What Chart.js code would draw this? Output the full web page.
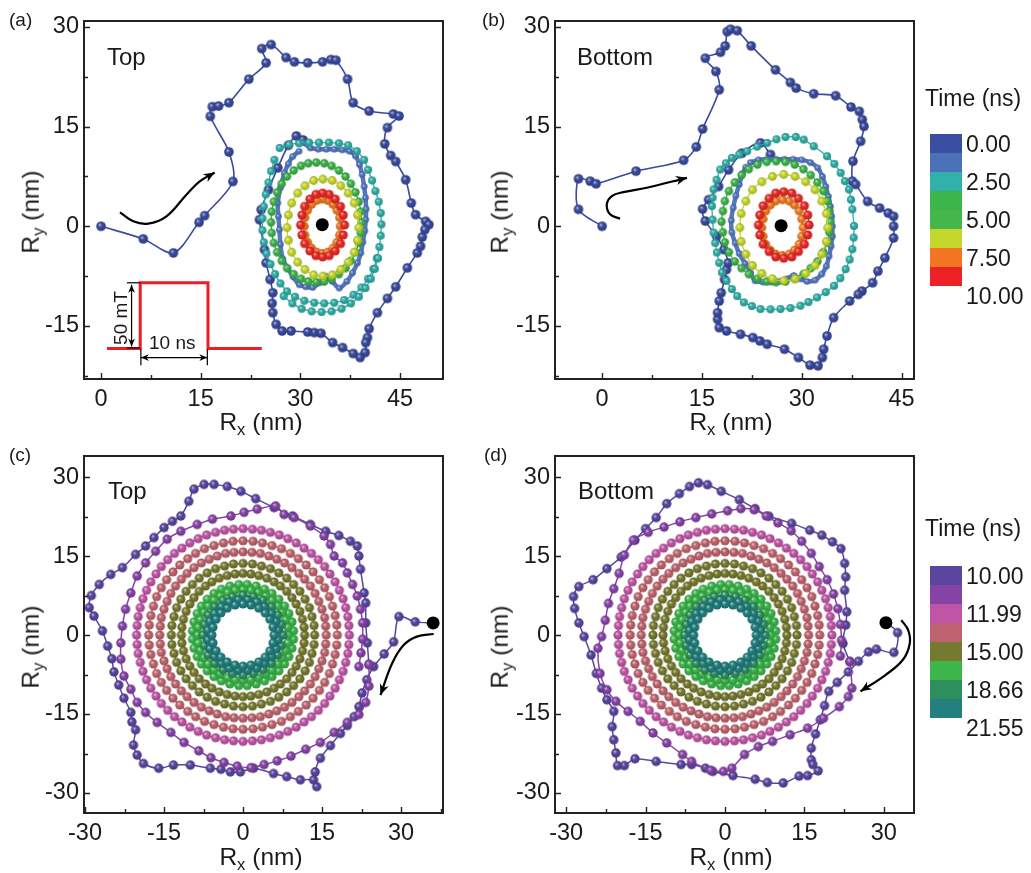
<!DOCTYPE html>
<html>
<head>
<meta charset="utf-8">
<script src="https://cdn.jsdelivr.net/npm/chart.js@4.4.1/dist/chart.umd.min.js"></script>
<style>
  body { margin: 0; background: #fff; }
  #page { position: relative; width: 1031px; height: 873px; overflow: hidden; font-family: "Liberation Sans", Arial, sans-serif; color: #1a1a1a; }
  #page canvas { position: absolute; }
  .t { position: absolute; white-space: nowrap; line-height: 1; }
  .t sub { font-size: 0.68em; vertical-align: baseline; position: relative; top: 0.32em; }
  .panel { font-size: 19px; }
  .side { font-size: 24px; }
  .xt { font-size: 24.5px; transform: translateX(-50%); }
  .yt { font-size: 24.5px; transform: translate(-50%, -50%) rotate(-90deg); }
  .note { font-size: 19px; }
  .ttl { font-size: 23px; }
  .cb { position: absolute; width: 32px; }
  .cbl { font-size: 23px; transform: translateY(-50%); }
</style>
</head>
<body>
<div id="page">
  <canvas id="ca" width="470" height="440" style="left:0;top:0"></canvas>
  <canvas id="cb" width="470" height="440" style="left:471px;top:0"></canvas>
  <canvas id="cc" width="470" height="438" style="left:0;top:435px"></canvas>
  <canvas id="cd" width="470" height="438" style="left:471px;top:435px"></canvas>

  <div class="t panel" style="left:9px;top:10px">(a)</div>
  <div class="t panel" style="left:482px;top:10px">(b)</div>
  <div class="t panel" style="left:9px;top:445px">(c)</div>
  <div class="t panel" style="left:484px;top:445px">(d)</div>

  <div class="t side" style="left:107px;top:45px">Top</div>
  <div class="t side" style="left:577px;top:45px">Bottom</div>
  <div class="t side" style="left:108px;top:479px">Top</div>
  <div class="t side" style="left:578px;top:479px">Bottom</div>

  <div class="t xt" style="left:261px;top:410px">R<sub>x</sub> (nm)</div>
  <div class="t xt" style="left:731px;top:410px">R<sub>x</sub> (nm)</div>
  <div class="t xt" style="left:261px;top:845px">R<sub>x</sub> (nm)</div>
  <div class="t xt" style="left:731px;top:845px">R<sub>x</sub> (nm)</div>
  <div class="t yt" style="left:31px;top:212px">R<sub>y</sub> (nm)</div>
  <div class="t yt" style="left:500px;top:212px">R<sub>y</sub> (nm)</div>
  <div class="t yt" style="left:31px;top:647px">R<sub>y</sub> (nm)</div>
  <div class="t yt" style="left:500px;top:647px">R<sub>y</sub> (nm)</div>

  <div class="t note" style="left:120px;top:318px;transform:translate(-50%,-50%) rotate(-90deg)">50 mT</div>
  <div class="t note" style="left:149px;top:333px">10 ns</div>

  <div class="t ttl" style="left:925px;top:87px">Time (ns)</div>
  <div class="t ttl" style="left:925px;top:517px">Time (ns)</div>
  <div id="barAB"></div>
  <div id="barCD"></div>
</div>
<script>
// ---------- axes ----------
const abXTicks = [0, 15, 30, 45]
const abYTicks = [-15, 0, 15, 30]
const abXMinor = [7.5, 22.5, 37.5]
const abYMinor = [-22.5, -7.5, 7.5, 22.5]
const cdTicks = [-30, -15, 0, 15, 30]
const cXMinor = [-22.5, -7.5, 7.5, 22.5, 37.5]
const dXMinor = [-22.5, -7.5, 7.5, 22.5]
const cdYMinor = [-22.5, -7.5, 7.5, 22.5]

// ---------- colour bars ----------
const timeColorsAB = ['#3a4ea1', '#4b72b9', '#31b0ac', '#3cb54b', '#45b74a', '#c4d72d', '#f37522', '#ec2227']
const timeLabelsAB = ['0.00', '2.50', '5.00', '7.50', '10.00']
const timeColorsCD = ['#5b45a0', '#8443a5', '#c054a6', '#bf6371', '#767a31', '#3cb64b', '#2e8f5e', '#23807f']
const timeLabelsCD = ['10.00', '11.99', '15.00', '18.66', '21.55']

// ---------- panel (a), top ----------
const aCore = [[33.3, 0.25]]
const aBlue0 = [[0,0],[6.35,-1.9],[10.9,-4.0],[14.75,0.6],[15.6,1.6],[19.85,6.75],[19.25,11.2],[16.45,16.55],[16.75,18],[17.7,18.1],[19.25,18.6],[22.25,22.15],[24.85,24.6],[24.2,26.75],[25.6,27.35],[27.85,25.4],[29.1,24.75],[31.1,24.6],[33.35,24.75],[34.6,25.1],[35.35,25],[37.1,22.15],[37.95,18.6],[40.35,17.35],[44,16.9],[44.85,16.6],[43.1,14.85],[42.7,12.4],[43.6,10.65],[44.35,9.75],[45.85,7],[46.7,3.5],[47.35,1.75],[48.85,0.75],[49.35,0.25],[48.75,-0.5],[48.35,-1.6],[48.1,-3],[47.6,-4],[46.1,-6.25],[44.35,-9.1],[43.1,-10.85],[41.6,-13],[40.35,-15.4],[40.1,-16.75],[39.85,-17.5],[39.75,-19],[39,-19.75],[37.95,-19.15],[36.35,-18.25],[34.85,-17.5],[33.1,-16.1],[32.1,-16],[31.1,-15.9],[28.6,-15.75],[27.25,-15.75],[26.35,-14.75],[25.85,-13],[25.75,-11.6],[25.85,-10],[25.45,-8],[24.85,-5.5],[24.6,-3.5],[23.85,1],[24.1,2.5],[25.2,5.5],[26.6,8.8],[28.2,12.2],[29.4,13.6],[30.4,13.0]]
const aBlue1 = [[30.4,12.6],[31.5,11.8],[32.7,11.6],[33.9,11.6],[35.1,11.6],[36.3,11.5],[37.4,11.3],[38.3,10.6],[38.9,9.3],[39.3,7.8],[39.6,6.0],[39.8,4.3],[39.9,2.6],[39.85,1.0],[39.7,-0.7],[39.4,-2.4],[39.1,-4.0],[38.6,-5.5],[37.85,-7.0],[37.0,-8.3],[35.85,-9.3],[34.8,-8.3],[33.85,-7.5],[32.9,-8.5],[31.85,-9.2],[30.8,-9.1],[29.85,-8.8],[28.9,-7.6],[28.1,-6.3],[27.35,-4.9],[27.0,-2.7],[26.85,-0.5],[26.7,1.5],[26.6,3.5],[27.0,5.8],[27.6,8.0],[28.2,9.4],[28.85,10.5],[29.8,11.3]]
const aTeal = [[26.9,11.8],[28.3,12.3],[29.8,12.5],[31.3,12.6],[32.8,12.6],[34.3,12.6],[35.8,12.5],[37.2,12.2],[38.5,11.3],[39.6,10.0],[40.2,8.5],[40.8,6.9],[41.3,5.3],[41.8,3.7],[42.1,2.0],[42.2,0.3],[42.1,-1.4],[41.9,-3.1],[41.5,-4.8],[41.0,-6.4],[40.2,-7.9],[39.2,-9.2],[38.0,-10.3],[36.6,-11.1],[35.1,-11.5],[33.6,-11.6],[32.1,-11.5],[30.6,-11.2],[29.2,-10.6],[28.0,-9.8],[27.0,-8.6],[26.2,-7.2],[25.5,-5.7],[24.9,-4.1],[24.5,-2.4],[24.3,-0.6],[24.3,1.2],[24.5,3.0],[24.8,4.8],[25.2,6.6],[25.6,8.3],[26.1,10.0]]
const aTeal2 = [[27.5,-10.5],[28.8,-11.6],[30.2,-12.4],[31.7,-12.8],[33.2,-12.9],[34.7,-12.8],[36.2,-12.4],[37.6,-11.6],[38.8,-10.6],[39.8,-9.3],[40.6,-7.9],[41.2,-6.4],[41.7,-4.8]]
const aGreen = [[39.2,0.6],[39.1,2.2],[38.8,3.7],[38.3,5.1],[37.6,6.4],[36.8,7.5],[35.8,8.4],[34.7,9.1],[33.6,9.5],[32.4,9.6],[31.2,9.5],[30.1,9.1],[29.0,8.4],[28.0,7.5],[27.2,6.4],[26.5,5.1],[26.0,3.7],[25.7,2.2],[25.6,0.6],[25.7,-1.0],[26.0,-2.5],[26.5,-3.9],[27.2,-5.2],[28.0,-6.3],[29.0,-7.2],[30.1,-7.9],[31.2,-8.3],[32.4,-8.4],[33.6,-8.3],[34.7,-7.9],[35.8,-7.2],[36.8,-6.3],[37.6,-5.2],[38.3,-3.9],[38.8,-2.5],[39.1,-1.0]]
const aYellow = [[38.8,-0.2],[38.6,1.7],[38.1,3.5],[37.2,5.0],[36.1,6.1],[34.8,6.9],[33.4,7.1],[32.0,6.9],[30.7,6.1],[29.6,5.0],[28.7,3.5],[28.2,1.7],[28.0,-0.2],[28.2,-2.1],[28.7,-3.9],[29.6,-5.4],[30.7,-6.5],[32.0,-7.3],[33.4,-7.5],[34.8,-7.3],[36.1,-6.5],[37.2,-5.4],[38.1,-3.9],[38.6,-2.1]]
const aOrange = [[36.0,0.0],[35.9,1.3],[35.5,2.4],[34.9,3.3],[34.1,3.9],[33.3,4.1],[32.5,3.9],[31.7,3.3],[31.1,2.4],[30.7,1.3],[30.6,0.0],[30.7,-1.3],[31.1,-2.4],[31.7,-3.3],[32.5,-3.9],[33.3,-4.1],[34.1,-3.9],[34.9,-3.3],[35.5,-2.4],[35.9,-1.3]]
const aRed = [[36.65,0.2],[36.45,1.7],[36.05,3.0],[35.25,4.1],[34.35,4.8],[33.35,5.0],[32.35,4.8],[31.45,4.1],[30.65,3.0],[30.25,1.7],[30.05,0.2],[30.25,-1.3],[30.65,-2.6],[31.45,-3.7],[32.35,-4.4],[33.35,-4.6],[34.35,-4.4],[35.25,-3.7],[36.05,-2.6],[36.45,-1.3]]
const aArrow = [[2.85,2.1],[4.85,0.75],[7.1,0.4],[9.85,1.5],[12.85,4.75],[14.85,6.75],[17.1,8.1]]
const aPulse = [[0.9,-18.4],[5.9,-18.4],[5.9,-8.5],[16.1,-8.5],[16.1,-18.4],[24.2,-18.4]]
const aFieldArrow = [[4.6,-8.8],[4.6,-18.1]]
const aFieldBarTop = [[3.9,-8.5],[5.9,-8.5]]
const aFieldBarBottom = [[3.9,-18.3],[5.9,-18.3]]
const aTimeArrow = [[6.0,-19.75],[16.0,-19.75]]
const aTimeBarLeft = [[6.0,-18.5],[6.0,-20.9]]
const aTimeBarRight = [[16.0,-18.5],[16.0,-20.9]]

// ---------- panel (b), bottom ----------
const bCore = [[26.9, 0.1]]
const bBlue0 = [[0,0],[-3.55,2.55],[-3.55,7.15],[-1.8,6.8],[-0.9,6.4],[5.1,8.3],[12.25,9.95],[14.15,11.95],[15.1,14.65],[17.6,20.55],[17.1,23.3],[15.5,25.3],[17.8,26.2],[18.5,27.15],[18.8,29.3],[19.3,29.65],[20.3,29.45],[22.4,27.15],[26.05,23.55],[28.3,21.65],[29.15,20.8],[31.8,19.95],[35.1,19.65],[37.4,17.95],[38.65,17.3],[39.1,16.05],[39.35,15.05],[38.85,12.8],[37.7,9.8],[37.6,6.8],[38.1,6.3],[39.9,3.75],[41.7,2.75],[43,2],[43.8,1.5],[43.8,0],[43.8,-1.75],[42.5,-4.75],[41.45,-6.75],[40.65,-8.5],[39.05,-9.75],[38.5,-10.25],[37.2,-11.25],[34.8,-13.75],[33.8,-16.5],[33.3,-18.5],[33.1,-19.75],[32.45,-21],[31.25,-20.9],[29.5,-19.75],[27.4,-18.5],[24.8,-17.75],[23.7,-17.25],[22.65,-16.75],[20.8,-16.25],[18.7,-15.75],[17.6,-15.25],[17.35,-14],[17.35,-13],[17.6,-11.25],[17.9,-10],[18.4,-8],[18.7,-6.5],[18.95,-5.5],[18.3,-3.5],[17.2,-1.5],[15.5,0.8],[15.1,2.6],[16,4],[17.5,6],[19,8.5],[21,11],[23.8,12.55],[25.3,10.8]]
const bBlue1 = [[22.3,9.6],[23.5,10.0],[24.8,10.1],[26.1,10.1],[27.4,10.1],[28.7,10.1],[30.0,10.0],[31.3,9.6],[32.4,8.8],[33.1,7.5],[33.6,6.0],[34.0,4.5],[34.3,3.0],[34.5,1.5],[34.6,0],[34.6,-1.5],[34.4,-3.0],[34.1,-4.5],[33.7,-6.0],[33.0,-7.2],[32.0,-8.1],[30.8,-8.3],[29.8,-7.9],[28.8,-7.4],[27.8,-7.9],[26.8,-8.3],[25.5,-8.4],[24.2,-8.4],[23.0,-8.2],[22.3,-7.0],[21.5,-5.6],[20.6,-4.1],[20.0,-2.5],[19.5,-0.9],[19.4,0.9],[19.7,2.8],[20.1,4.6],[20.6,6.3],[21.1,7.9],[21.6,8.9]]
const bTeal = [[27.55,13.45],[29.1,13.45],[30.3,13.05],[31.8,12.05],[33.8,10.55],[34.9,9.4],[35.85,8.05],[36.5,6.8],[37.1,5.55],[37.4,4.0],[37.6,2.55],[37.85,0.05],[37.8,-1.7],[37.6,-3.45],[37.2,-5.0],[36.6,-6.45],[35.8,-7.8],[34.85,-8.95],[33.6,-9.9],[32.3,-10.7],[31.0,-11.4],[29.8,-11.95],[28.3,-12.3],[26.8,-12.45],[25.3,-12.5],[23.8,-12.45],[22.5,-12.0],[21.3,-11.45],[20.3,-10.5],[19.5,-9.45],[18.7,-8.2],[18.0,-6.95],[17.6,-5.5],[17.25,-3.95],[17.0,-2.5],[16.75,-0.95],[16.6,1.0],[16.5,3.05],[16.6,4.3],[16.75,5.55],[17.2,7.0],[17.75,8.55],[18.6,9.5],[19.5,10.3],[20.6,10.8],[21.8,11.3],[23.3,12.0],[24.8,12.55],[26.2,13.1]]
const bGreen = [[34.3,0.7],[34.15,2.3],[33.85,3.8],[33.25,5.3],[32.35,6.6],[31.35,7.7],[30.25,8.6],[28.95,9.3],[27.55,9.7],[26.15,9.8],[24.75,9.7],[23.35,9.3],[22.05,8.6],[20.95,7.7],[19.95,6.6],[19.05,5.3],[18.45,3.8],[18.15,2.3],[17.95,0.7],[18.15,-0.9],[18.45,-2.4],[19.05,-3.9],[19.95,-5.3],[20.95,-6.3],[22.05,-7.2],[23.35,-7.9],[24.75,-8.3],[26.15,-8.4],[27.55,-8.3],[28.95,-7.9],[30.25,-7.2],[31.35,-6.3],[32.35,-5.3],[33.25,-3.9],[33.85,-2.4],[34.15,-0.9]]
const bYellow = [[33.9,-0.2],[33.7,1.9],[33.0,3.8],[32.0,5.5],[30.6,6.7],[29.0,7.5],[27.3,7.8],[25.6,7.5],[24.0,6.7],[22.6,5.5],[21.6,3.8],[20.9,1.9],[20.7,-0.2],[20.9,-2.3],[21.6,-4.2],[22.6,-5.9],[24.0,-7.1],[25.6,-7.9],[27.3,-8.2],[29.0,-7.9],[30.6,-7.1],[32.0,-5.9],[33.0,-4.2],[33.7,-2.3]]
const bOrange = [[30.2,-0.2],[30.0,1.1],[29.6,2.3],[28.9,3.2],[28.1,3.8],[27.1,4.0],[26.1,3.8],[25.3,3.2],[24.6,2.3],[24.2,1.1],[24.0,-0.2],[24.2,-1.5],[24.6,-2.7],[25.3,-3.6],[26.1,-4.2],[27.1,-4.4],[28.1,-4.2],[28.9,-3.6],[29.6,-2.7],[30.0,-1.5]]
const bRed = [[31.1,0.2],[30.9,1.7],[30.4,3.1],[29.5,4.2],[28.5,5.0],[27.3,5.2],[26.1,5.0],[25.1,4.2],[24.2,3.1],[23.7,1.7],[23.5,0.2],[23.7,-1.3],[24.2,-2.7],[25.1,-3.8],[26.1,-4.6],[27.3,-4.8],[28.5,-4.6],[29.5,-3.8],[30.4,-2.7],[30.9,-1.3]]
const bArrow = [[2.7,1.15],[1.2,1.8],[0.7,3.3],[1.46,4.55],[3.2,5.15],[6.7,5.8],[12.75,7.3]]

// ---------- panels (c) and (d): inner rings after the pulse ----------
const ringTeal1 = [[5.9,0],[5.7,1.5],[5.1,3.0],[4.2,4.2],[3.0,5.1],[1.5,5.7],[0,5.9],[-1.5,5.7],[-3.0,5.1],[-4.2,4.2],[-5.1,3.0],[-5.7,1.5],[-5.9,0],[-5.7,-1.5],[-5.1,-3.0],[-4.2,-4.2],[-3.0,-5.1],[-1.5,-5.7],[0,-5.9],[1.5,-5.7],[3.0,-5.1],[4.2,-4.2],[5.1,-3.0],[5.7,-1.5]]
const ringTeal2 = [[6.7,0.9],[6.3,2.6],[5.4,4.1],[4.1,5.4],[2.6,6.3],[0.9,6.7],[-0.9,6.7],[-2.6,6.3],[-4.1,5.4],[-5.4,4.1],[-6.3,2.6],[-6.7,0.9],[-6.7,-0.9],[-6.3,-2.6],[-5.4,-4.1],[-4.1,-5.4],[-2.6,-6.3],[-0.9,-6.7],[0.9,-6.7],[2.6,-6.3],[4.1,-5.4],[5.4,-4.1],[6.3,-2.6],[6.7,-0.9]]
const ringDkGreen = [[7.6,0],[7.3,2.0],[6.6,3.8],[5.4,5.4],[3.8,6.6],[2.0,7.3],[0,7.6],[-2.0,7.3],[-3.8,6.6],[-5.4,5.4],[-6.6,3.8],[-7.3,2.0],[-7.6,0],[-7.3,-2.0],[-6.6,-3.8],[-5.4,-5.4],[-3.8,-6.6],[-2.0,-7.3],[0,-7.6],[2.0,-7.3],[3.8,-6.6],[5.4,-5.4],[6.6,-3.8],[7.3,-2.0]]
const ringGreen1 = [[8.6,0],[8.5,1.5],[8.1,2.9],[7.4,4.3],[6.6,5.5],[5.5,6.6],[4.3,7.4],[2.9,8.1],[1.5,8.5],[0,8.6],[-1.5,8.5],[-2.9,8.1],[-4.3,7.4],[-5.5,6.6],[-6.6,5.5],[-7.4,4.3],[-8.1,2.9],[-8.5,1.5],[-8.6,0],[-8.5,-1.5],[-8.1,-2.9],[-7.4,-4.3],[-6.6,-5.5],[-5.5,-6.6],[-4.3,-7.4],[-2.9,-8.1],[-1.5,-8.5],[0,-8.6],[1.5,-8.5],[2.9,-8.1],[4.3,-7.4],[5.5,-6.6],[6.6,-5.5],[7.4,-4.3],[8.1,-2.9],[8.5,-1.5]]
const ringGreen2 = [[9.6,0.8],[9.3,2.5],[8.7,4.1],[7.9,5.5],[6.8,6.8],[5.5,7.9],[4.1,8.7],[2.5,9.3],[0.8,9.6],[-0.8,9.6],[-2.5,9.3],[-4.1,8.7],[-5.5,7.9],[-6.8,6.8],[-7.9,5.5],[-8.7,4.1],[-9.3,2.5],[-9.6,0.8],[-9.6,-0.8],[-9.3,-2.5],[-8.7,-4.1],[-7.9,-5.5],[-6.8,-6.8],[-5.5,-7.9],[-4.1,-8.7],[-2.5,-9.3],[-0.8,-9.6],[0.8,-9.6],[2.5,-9.3],[4.1,-8.7],[5.5,-7.9],[6.8,-6.8],[7.9,-5.5],[8.7,-4.1],[9.3,-2.5],[9.6,-0.8]]
const ringOlive1 = [[11.7,0],[11.6,1.5],[11.3,3.0],[10.8,4.5],[10.1,5.9],[9.3,7.1],[8.3,8.3],[7.1,9.3],[5.9,10.1],[4.5,10.8],[3.0,11.3],[1.5,11.6],[0,11.7],[-1.5,11.6],[-3.0,11.3],[-4.5,10.8],[-5.9,10.1],[-7.1,9.3],[-8.3,8.3],[-9.3,7.1],[-10.1,5.9],[-10.8,4.5],[-11.3,3.0],[-11.6,1.5],[-11.7,0],[-11.6,-1.5],[-11.3,-3.0],[-10.8,-4.5],[-10.1,-5.9],[-9.3,-7.1],[-8.3,-8.3],[-7.1,-9.3],[-5.9,-10.1],[-4.5,-10.8],[-3.0,-11.3],[-1.5,-11.6],[0,-11.7],[1.5,-11.6],[3.0,-11.3],[4.5,-10.8],[5.9,-10.1],[7.1,-9.3],[8.3,-8.3],[9.3,-7.1],[10.1,-5.9],[10.8,-4.5],[11.3,-3.0],[11.6,-1.5]]
const ringOlive2 = [[13.6,0],[13.5,1.8],[13.1,3.5],[12.6,5.2],[11.8,6.8],[10.8,8.3],[9.6,9.6],[8.3,10.8],[6.8,11.8],[5.2,12.6],[3.5,13.1],[1.8,13.5],[0,13.6],[-1.8,13.5],[-3.5,13.1],[-5.2,12.6],[-6.8,11.8],[-8.3,10.8],[-9.6,9.6],[-10.8,8.3],[-11.8,6.8],[-12.6,5.2],[-13.1,3.5],[-13.5,1.8],[-13.6,0],[-13.5,-1.8],[-13.1,-3.5],[-12.6,-5.2],[-11.8,-6.8],[-10.8,-8.3],[-9.6,-9.6],[-8.3,-10.8],[-6.8,-11.8],[-5.2,-12.6],[-3.5,-13.1],[-1.8,-13.5],[0,-13.6],[1.8,-13.5],[3.5,-13.1],[5.2,-12.6],[6.8,-11.8],[8.3,-10.8],[9.6,-9.6],[10.8,-8.3],[11.8,-6.8],[12.6,-5.2],[13.1,-3.5],[13.5,-1.8]]
const ringRose1 = [[15.8,0],[15.7,1.7],[15.5,3.3],[15.0,4.9],[14.4,6.4],[13.7,7.9],[12.8,9.3],[11.7,10.6],[10.6,11.7],[9.3,12.8],[7.9,13.7],[6.4,14.4],[4.9,15.0],[3.3,15.5],[1.7,15.7],[0,15.8],[-1.7,15.7],[-3.3,15.5],[-4.9,15.0],[-6.4,14.4],[-7.9,13.7],[-9.3,12.8],[-10.6,11.7],[-11.7,10.6],[-12.8,9.3],[-13.7,7.9],[-14.4,6.4],[-15.0,4.9],[-15.5,3.3],[-15.7,1.7],[-15.8,0],[-15.7,-1.7],[-15.5,-3.3],[-15.0,-4.9],[-14.4,-6.4],[-13.7,-7.9],[-12.8,-9.3],[-11.7,-10.6],[-10.6,-11.7],[-9.3,-12.8],[-7.9,-13.7],[-6.4,-14.4],[-4.9,-15.0],[-3.3,-15.5],[-1.7,-15.7],[0,-15.8],[1.7,-15.7],[3.3,-15.5],[4.9,-15.0],[6.4,-14.4],[7.9,-13.7],[9.3,-12.8],[10.6,-11.7],[11.7,-10.6],[12.8,-9.3],[13.7,-7.9],[14.4,-6.4],[15.0,-4.9],[15.5,-3.3],[15.7,-1.7]]
const ringRose2 = [[17.9,0],[17.8,1.9],[17.5,3.7],[17.0,5.5],[16.4,7.3],[15.5,9.0],[14.5,10.5],[13.3,12.0],[12.0,13.3],[10.5,14.5],[9.0,15.5],[7.3,16.4],[5.5,17.0],[3.7,17.5],[1.9,17.8],[0,17.9],[-1.9,17.8],[-3.7,17.5],[-5.5,17.0],[-7.3,16.4],[-9.0,15.5],[-10.5,14.5],[-12.0,13.3],[-13.3,12.0],[-14.5,10.5],[-15.5,9.0],[-16.4,7.3],[-17.0,5.5],[-17.5,3.7],[-17.8,1.9],[-17.9,0],[-17.8,-1.9],[-17.5,-3.7],[-17.0,-5.5],[-16.4,-7.3],[-15.5,-9.0],[-14.5,-10.5],[-13.3,-12.0],[-12.0,-13.3],[-10.5,-14.5],[-9.0,-15.5],[-7.3,-16.4],[-5.5,-17.0],[-3.7,-17.5],[-1.9,-17.8],[0,-17.9],[1.9,-17.8],[3.7,-17.5],[5.5,-17.0],[7.3,-16.4],[9.0,-15.5],[10.5,-14.5],[12.0,-13.3],[13.3,-12.0],[14.5,-10.5],[15.5,-9.0],[16.4,-7.3],[17.0,-5.5],[17.5,-3.7],[17.8,-1.9]]
const ringPink = [[20.2,0],[20.1,1.8],[19.9,3.5],[19.5,5.2],[19.0,6.9],[18.3,8.5],[17.5,10.1],[16.5,11.6],[15.5,13.0],[14.3,14.3],[13.0,15.5],[11.6,16.5],[10.1,17.5],[8.5,18.3],[6.9,19.0],[5.2,19.5],[3.5,19.9],[1.8,20.1],[0,20.2],[-1.8,20.1],[-3.5,19.9],[-5.2,19.5],[-6.9,19.0],[-8.5,18.3],[-10.1,17.5],[-11.6,16.5],[-13.0,15.5],[-14.3,14.3],[-15.5,13.0],[-16.5,11.6],[-17.5,10.1],[-18.3,8.5],[-19.0,6.9],[-19.5,5.2],[-19.9,3.5],[-20.1,1.8],[-20.2,0],[-20.1,-1.8],[-19.9,-3.5],[-19.5,-5.2],[-19.0,-6.9],[-18.3,-8.5],[-17.5,-10.1],[-16.5,-11.6],[-15.5,-13.0],[-14.3,-14.3],[-13.0,-15.5],[-11.6,-16.5],[-10.1,-17.5],[-8.5,-18.3],[-6.9,-19.0],[-5.2,-19.5],[-3.5,-19.9],[-1.8,-20.1],[0,-20.2],[1.8,-20.1],[3.5,-19.9],[5.2,-19.5],[6.9,-19.0],[8.5,-18.3],[10.1,-17.5],[11.6,-16.5],[13.0,-15.5],[14.3,-14.3],[15.5,-13.0],[16.5,-11.6],[17.5,-10.1],[18.3,-8.5],[19.0,-6.9],[19.5,-5.2],[19.9,-3.5],[20.1,-1.8]]

// ---------- panel (c), top: outer loops ----------
const cCore = [[36.1, 2.3]]
const cDark = [[36.1,2.3],[32.7,2.5],[29.6,3.5],[28.6,-1.3],[26.8,-3.6],[24.8,-6.0],[23.5,-8.5],[22.6,-11.0],[22.0,-13.6],[21.1,-15.5],[19.8,-17.2],[18.5,-18.7],[16.6,-21.0],[14.7,-23.4],[13.7,-26.0],[14.0,-28.8],[13.4,-27.5],[10.9,-27.5],[8.3,-26.9],[5.8,-26.3],[2.0,-25.3],[-0.5,-26.0],[-2.4,-26.0],[-4.2,-25.5],[-6.2,-25.3],[-10.0,-24.7],[-13.2,-24.7],[-16.0,-25.3],[-18.9,-24.4],[-20.1,-22.8],[-20.8,-20.9],[-20.4,-18.0],[-21.1,-16.5],[-21.3,-14.7],[-22.6,-12.0],[-23.6,-9.5],[-24.5,-7.0],[-24.9,-4.5],[-25.7,-2.1],[-26.7,0.8],[-28.3,3.6],[-29.2,5.2],[-28.8,7.5],[-27.3,9.6],[-25.1,11.5],[-22.9,12.8],[-20.4,15.3],[-18.5,16.9],[-16.9,18.5],[-15.0,20.4],[-13.4,21.6],[-11.8,22.6],[-10.3,25.4],[-9.3,27.7],[-7.4,28.6],[-5.5,28.6],[-3.0,28.2],[-0.4,27.3],[2.4,25.9],[5.9,24.2],[9.4,22.6],[12.8,21.0],[15.7,19.7],[18.2,18.9],[20.4,17.8],[21.7,16.9],[22.0,15.0],[22.3,12.5],[23.0,8.0],[23.3,6.1],[23.3,2.3],[23.6,-1.5],[23.9,-5.6]]
const cPurple = [[23.9,-5.6],[23.9,-9.7],[23.3,-12.8],[22.0,-15.1],[19.8,-16.6],[17.3,-18.5],[14.7,-20.4],[11.9,-21.7],[9.1,-23.0],[6.5,-23.9],[4.0,-24.6],[1.5,-25.2],[-1.1,-24.9],[-3.6,-24.2],[-6.1,-23.3],[-8.4,-22.0],[-11.2,-20.4],[-13.7,-18.5],[-16.3,-16.6],[-18.5,-14.7],[-20.1,-12.8],[-21.3,-10.3],[-22.6,-7.8],[-23.2,-4.6],[-23.2,-1.5],[-22.9,1.7],[-22.3,4.9],[-21.3,8.0],[-20.1,11.2],[-18.5,13.7],[-16.6,15.9],[-14.4,18.2],[-11.8,19.7],[-8.7,21.0],[-5.8,22.0],[-2.3,22.6],[0.2,23.3],[2.7,23.9],[6.2,24.5],[7.8,22.9],[9.7,22.3],[12.8,20.7],[15.4,18.8],[16.6,17.2],[17.3,15.0],[18.9,13.7],[19.8,11.8],[20.8,9.6],[21.7,7.4],[22.3,4.9],[22.7,2.3],[22.7,-0.8],[22.4,-3.4],[22.0,-6.0]]
const cArrow = [[36.2,0.2],[33.0,-0.3],[30.5,-1.9],[28.3,-5.4],[26.1,-11.4]]

// ---------- panel (d), bottom: outer loops ----------
const dCore = [[30.4, 2.35]]
const dDark = [[30.4,2.35],[32.6,0.45],[31.9,-3.3],[28.6,-2.7],[27.1,-3.2],[25.2,-5.0],[23.3,-7.0],[21.2,-9.0],[19.6,-10.7],[18.8,-13.4],[18.0,-16.1],[17.1,-18.8],[16.3,-21.5],[16.3,-23.7],[16.6,-24.6],[17.6,-25.8],[15.6,-26.7],[14.0,-26.8],[11.0,-28.1],[8.0,-28.0],[5.7,-27.4],[1.5,-26.7],[-2.3,-25.9],[-3.7,-25.3],[-6.3,-24.6],[-8.3,-24.6],[-13.0,-24.0],[-17.0,-23.5],[-19.0,-24.8],[-20.3,-24.8],[-20.6,-22.4],[-21.0,-19.9],[-21.3,-17.4],[-21.0,-14.5],[-22.3,-12.3],[-23.3,-10.1],[-24.3,-7.3],[-25.3,-3.8],[-26.6,-0.3],[-27.6,2.3],[-28.4,5.05],[-28.6,7.3],[-27.6,9.2],[-24.9,10.5],[-22.3,12.6],[-19.6,14.8],[-17.0,18.0],[-15.0,20.2],[-13.0,22.3],[-11.0,24.95],[-8.6,26.85],[-6.7,28.2],[-5.0,28.9],[-3.3,28.55],[-0.7,27.3],[2.7,25.7],[5.7,24.0],[8.3,22.55],[12.6,21.2],[16.0,19.9],[18.3,18.95],[20.3,17.7],[21.9,16.4],[22.6,13.6],[22.8,11.05],[22.6,8.5],[23.0,4.4],[22.8,1.9],[22.3,-1.6],[23.6,-5.05]]
const dPurple = [[23.6,-5.05],[23.95,-10.1],[23.3,-11.7],[21.6,-13.6],[18.6,-15.8],[15.6,-17.7],[12.3,-18.95],[9.0,-20.2],[6.3,-21.2],[3.7,-22.7],[1.3,-25.3],[-0.3,-25.9],[-2.7,-25.7],[-6.3,-24.0],[-8.0,-22.7],[-11.0,-20.5],[-13.6,-18.6],[-16.0,-16.4],[-18.3,-14.5],[-20.6,-12.6],[-22.3,-10.4],[-23.6,-7.3],[-24.0,-2.5],[-23.3,-0.3],[-22.6,2.8],[-22.0,6.0],[-21.0,8.8],[-20.0,11.7],[-19.0,15.2],[-17.3,18.0],[-14.5,19.5],[-11.5,20.5],[-8.5,21.5],[-5.5,22.3],[-2.5,23.0],[0.5,23.6],[3.0,24.0],[5.5,23.8],[7.8,22.6],[10.0,21.3],[12.5,19.8],[14.5,17.8],[16.3,15.5],[17.8,13.0],[19.3,10.5],[20.5,7.8],[21.3,5.0],[21.8,2.0],[22.0,-1.0],[21.8,-4.0]]
const dArrow = [[33.3,2.85],[34.6,0.95],[34.9,-1.6],[33.6,-4.7],[30.3,-7.6],[25.6,-10.7]]

// ---------- drawing helpers ----------
const FONT = '"Liberation Sans", Arial, sans-serif'

function mix (hex, to, t) {
  const a = parseInt(hex.slice(1), 16)
  const b = parseInt(to.slice(1), 16)
  const c = s => Math.round(((a >> s) & 255) + (((b >> s) & 255) - ((a >> s) & 255)) * t)
  return `rgb(${c(16)},${c(8)},${c(0)})`
}

const balls = {}
function ball (color, r) {
  const key = color + r
  if (balls[key]) return balls[key]
  const d = Math.ceil(r * 2) + 2
  const cv = document.createElement('canvas')
  cv.width = cv.height = d
  const g = cv.getContext('2d')
  const m = d / 2
  const grad = g.createRadialGradient(m - r * 0.3, m - r * 0.35, r * 0.05, m, m, r)
  grad.addColorStop(0, mix(color, '#ffffff', 0.6))
  grad.addColorStop(0.4, color)
  grad.addColorStop(1, mix(color, '#000000', 0.2))
  g.fillStyle = grad
  g.beginPath()
  g.arc(m, m, r, 0, Math.PI * 2)
  g.fill()
  balls[key] = cv
  return cv
}

function chain (data, color, r, width) {
  return {
    data, showLine: true, borderColor: color, borderWidth: width || 1.3, tension: 0.3,
    pointStyle: ball(color, r), pointRadius: r, backgroundColor: color
  }
}

function guide (data, extra) {
  return Object.assign({ data, showLine: true, borderColor: '#000', borderWidth: 2.2, tension: 0.4, pointRadius: 0 }, extra)
}

function core (data) {
  return { data, pointRadius: 6.5, pointStyle: 'circle', backgroundColor: '#000', borderColor: '#000', borderWidth: 0 }
}

const frame = {
  id: 'frame',
  afterDraw (chart, args, opts) {
    const { ctx, chartArea: a, scales: { x, y } } = chart
    ctx.save()
    ctx.strokeStyle = '#222'
    ctx.lineWidth = 1.4
    ctx.beginPath()
    const tx = (list, len) => list.forEach(v => {
      const p = Math.round(x.getPixelForValue(v)) + 0.5
      ctx.moveTo(p, a.bottom); ctx.lineTo(p, a.bottom - len)
    })
    const ty = (list, len) => list.forEach(v => {
      const p = Math.round(y.getPixelForValue(v)) + 0.5
      ctx.moveTo(a.left, p); ctx.lineTo(a.left + len, p)
    })
    tx(opts.xMajor, 6); tx(opts.xMinor, 4)
    ty(opts.yMajor, 6); ty(opts.yMinor, 4)
    ctx.stroke()
    ctx.lineWidth = 2
    ctx.strokeRect(a.left, a.top, a.right - a.left, a.bottom - a.top)
    ctx.restore()
  }
}

const arrowHeads = {
  id: 'arrowHeads',
  afterDatasetsDraw (chart) {
    const ctx = chart.ctx
    chart.data.datasets.forEach((ds, i) => {
      if (!ds.arrow) return
      const pts = chart.getDatasetMeta(i).data
      const size = ds.arrowSize || 11
      const head = (tip, from) => {
        const ang = Math.atan2(tip.y - from.y, tip.x - from.x)
        ctx.save()
        ctx.translate(tip.x, tip.y)
        ctx.rotate(ang)
        ctx.beginPath()
        ctx.moveTo(0, 0)
        ctx.lineTo(-size, -size * 0.42)
        ctx.lineTo(-size * 0.7, 0)
        ctx.lineTo(-size, size * 0.42)
        ctx.closePath()
        ctx.fillStyle = ds.borderColor
        ctx.fill()
        ctx.restore()
      }
      const n = pts.length
      head(pts[n - 1], pts[n - 2])
      if (ds.arrow === 'both') head(pts[0], pts[1])
    })
  }
}

function panel (id, p) {
  new Chart(document.getElementById(id), {
    type: 'scatter',
    data: { datasets: p.datasets },
    options: {
      responsive: false,
      animation: false,
      devicePixelRatio: 1,
      layout: { padding: { top: 21, right: 27, left: 0, bottom: 0 } },
      plugins: {
        legend: { display: false },
        tooltip: { enabled: false },
        frame: { xMajor: p.xTicks, xMinor: p.xMinor, yMajor: p.yTicks, yMinor: p.yMinor }
      },
      scales: {
        x: {
          type: 'linear', min: p.x[0], max: p.x[1],
          grid: { display: false, drawTicks: false }, border: { display: false },
          ticks: { color: '#1a1a1a', font: { family: FONT, size: 23.5 }, padding: 6, maxRotation: 0, autoSkip: false, callback: v => String(v) },
          afterBuildTicks: s => { s.ticks = p.xTicks.map(v => ({ value: v })) },
          afterFit: s => { s.height = p.xAxisH }
        },
        y: {
          type: 'linear', min: p.y[0], max: p.y[1],
          grid: { display: false, drawTicks: false }, border: { display: false },
          ticks: { color: '#1a1a1a', font: { family: FONT, size: 23.5 }, padding: 5, autoSkip: false, callback: v => String(v) },
          afterBuildTicks: s => { s.ticks = p.yTicks.map(v => ({ value: v })) },
          afterFit: s => { s.width = 84 }
        }
      }
    },
    plugins: [frame, arrowHeads]
  })
}

// colours of the time segments
const cA = { blue0: '#3a4b9f', blue1: '#5577c0', teal: '#2fb0a8', green: '#3cb54a', yellow: '#c6d82c', orange: '#f47a20', red: '#ec2a26' }
const cC = { dark: '#5a46a0', purple: '#8744a8', pink: '#c156a7', rose: '#c0656f', olive: '#777b2f', green: '#3cb64b', dkgreen: '#2e8f5e', teal: '#23807f' }

panel('ca', {
  x: [-2.56, 51.47], y: [-22.98, 30.9], xAxisH: 61,
  xTicks: abXTicks, yTicks: abYTicks, xMinor: abXMinor, yMinor: abYMinor,
  datasets: [
    core(aCore),
    guide(aArrow, { arrow: 'end' }),
    guide(aFieldArrow, { borderWidth: 1.2, tension: 0, arrow: 'both', arrowSize: 8 }),
    guide(aFieldBarTop, { borderWidth: 1.2, tension: 0 }),
    guide(aFieldBarBottom, { borderWidth: 1.2, tension: 0 }),
    guide(aTimeArrow, { borderWidth: 1.2, tension: 0, arrow: 'both', arrowSize: 8 }),
    guide(aTimeBarLeft, { borderWidth: 1.2, tension: 0 }),
    guide(aTimeBarRight, { borderWidth: 1.2, tension: 0 }),
    guide(aPulse, { borderColor: '#ee1c24', borderWidth: 3, tension: 0 }),
    chain(aRed, cA.red, 4.6),
    chain(aOrange, cA.orange, 4.4),
    chain(aYellow, cA.yellow, 4.4),
    chain(aGreen, cA.green, 4.2),
    chain(aTeal2, cA.teal, 4),
    chain(aTeal, cA.teal, 4),
    chain(aBlue1, cA.blue1, 3.3, 4.5),
    chain(aBlue0, cA.blue0, 4.8, 1.6)
  ]
})

panel('cb', {
  x: [-7.08, 46.87], y: [-22.98, 30.9], xAxisH: 61,
  xTicks: abXTicks, yTicks: abYTicks, xMinor: abXMinor, yMinor: abYMinor,
  datasets: [
    core(bCore),
    guide(bArrow, { arrow: 'end' }),
    chain(bRed, cA.red, 4.6),
    chain(bOrange, cA.orange, 4.4),
    chain(bYellow, cA.yellow, 4.4),
    chain(bGreen, cA.green, 4.2),
    chain(bTeal, cA.teal, 4),
    chain(bBlue1, cA.blue1, 3.3, 4.5),
    chain(bBlue0, cA.blue0, 4.8, 1.6)
  ]
})

function innerRings () {
  return [
    chain(ringTeal1, cC.teal, 4.6),
    chain(ringTeal2, cC.teal, 4.6),
    chain(ringDkGreen, cC.dkgreen, 4.6),
    chain(ringGreen1, cC.green, 4.6),
    chain(ringGreen2, cC.green, 4.6),
    chain(ringOlive1, cC.olive, 4.6),
    chain(ringOlive2, cC.olive, 4.6),
    chain(ringRose1, cC.rose, 4.6),
    chain(ringRose2, cC.rose, 4.6),
    chain(ringPink, cC.pink, 4.6)
  ]
}

panel('cc', {
  x: [-30.19, 37.97], y: [-33.8, 34.0], xAxisH: 60,
  xTicks: cdTicks, yTicks: cdTicks, xMinor: cXMinor, yMinor: cdYMinor,
  datasets: [
    core(cCore),
    guide(cArrow, { arrow: 'end' }),
    ...innerRings(),
    chain(cPurple, cC.purple, 4.7, 1.5),
    chain(cDark, cC.dark, 4.7, 1.5)
  ]
})

panel('cd', {
  x: [-32.1, 35.7], y: [-33.8, 34.0], xAxisH: 60,
  xTicks: cdTicks, yTicks: cdTicks, xMinor: dXMinor, yMinor: cdYMinor,
  datasets: [
    core(dCore),
    guide(dArrow, { arrow: 'end' }),
    ...innerRings(),
    chain(dPurple, cC.purple, 4.7, 1.5),
    chain(dDark, cC.dark, 4.7, 1.5)
  ]
})

// ---------- colour bars (HTML legend) ----------
function colorBar (hostId, colors, labels, top) {
  const host = document.getElementById(hostId)
  const h = 19
  colors.forEach((c, i) => {
    const b = document.createElement('div')
    b.className = 'cb'
    b.style.cssText = `left:930px;top:${top + i * h}px;height:${h}px;background:${c}`
    host.appendChild(b)
  })
  labels.forEach((t, i) => {
    const l = document.createElement('div')
    l.className = 't cbl'
    l.style.left = '966px'
    l.style.top = (top + 9.5 + i * 2 * h) + 'px'
    l.textContent = t
    host.appendChild(l)
  })
}
colorBar('barAB', timeColorsAB, timeLabelsAB, 134)
colorBar('barCD', timeColorsCD, timeLabelsCD, 566)
</script>
</body>
</html>
